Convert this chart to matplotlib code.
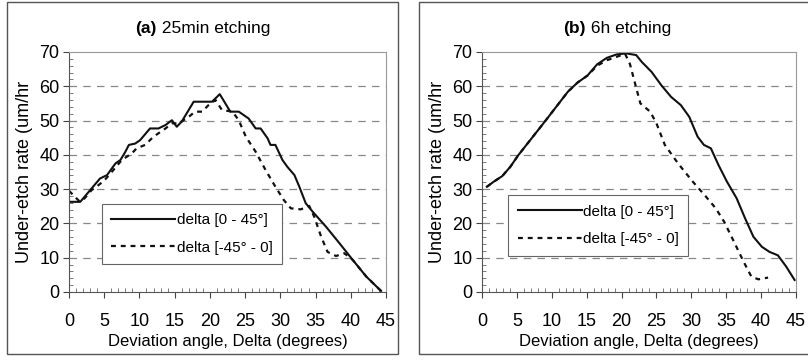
import matplotlib.pyplot as plt
from matplotlib.patches import Rectangle
from matplotlib.ticker import MultipleLocator

plt.rcParams['font.family'] = ['Liberation Sans', 'DejaVu Sans']

# panel (a) 25min etching
a_x_pos = [0, 1.6, 3.0, 4.4, 5.4, 6.1, 6.6, 7.3, 8.0, 8.5, 9.4, 10.1, 11.5, 12.7, 13.7, 14.6, 15.3, 16.0,
           17.7, 19.4, 20.3, 21.4, 22.9, 24.1, 25.5, 26.5, 27.2, 28.2, 28.6, 29.3, 30.3, 31.0, 32.0, 32.7,
           33.6, 34.6, 36.5, 38.4, 40.3, 42.2, 44.3]
a_y_pos = [26.3, 26.3, 29.7, 33.1, 34.1, 36.1, 37.5, 38.5, 40.9, 42.9, 43.3, 44.3, 47.7, 47.7, 48.7, 50.1,
           48.2, 49.7, 55.5, 55.5, 55.5, 57.7, 52.6, 52.6, 50.6, 47.7, 47.7, 44.8, 42.9, 42.9, 38.5, 36.5,
           34.1, 30.7, 25.9, 23.4, 19.0, 14.2, 9.3, 4.5, 0.3]
a_x_neg = [0, 0.5, 1.5, 2.2, 3.2, 3.9, 5.0, 6.1, 7.5, 8.9, 9.6, 10.8, 12.0, 13.7, 14.6, 15.6, 17.0, 17.9,
           18.9, 19.8, 20.8, 21.7, 23.2, 24.1, 25.1, 26.5, 27.9, 29.3, 30.5, 31.5, 32.9, 34.1, 34.8, 35.8,
           36.7, 37.9, 39.1, 40.3, 42.2, 44.3]
a_y_neg = [29.5, 28.5, 26.4, 27.3, 29.7, 30.7, 32.5, 35.1, 38.5, 40.4, 41.9, 42.9, 45.3, 47.7, 49.2, 49.2,
           51.1, 52.6, 52.6, 54.5, 56.0, 53.1, 52.6, 50.1, 45.3, 40.9, 35.6, 30.7, 26.8, 24.4, 24.1, 25.1,
           22.0, 16.1, 11.7, 10.5, 11.3, 9.3, 4.5, 0.3]

# panel (b) 6h etching
b_x_pos = [0.7, 1.7, 2.9, 4.05, 5.2, 7.1, 9.0, 10.9, 12.3, 13.7, 15.1, 16.5, 17.9, 19.3, 20.7, 22.1, 22.9,
           24.3, 25.7, 27.1, 28.5, 29.7, 30.9, 31.8, 32.8, 33.9, 35.1, 36.5, 37.7, 38.9, 40.1, 41.2, 42.4,
           43.6, 44.8]
b_y_pos = [30.7, 32.2, 33.8, 36.5, 39.9, 44.8, 49.7, 54.7, 58.4, 61.1, 63.1, 66.4, 68.3, 69.3, 69.6, 69.1,
           67.1, 64.2, 60.3, 56.9, 54.5, 51.1, 45.3, 42.9, 41.9, 37.0, 32.2, 27.3, 21.5, 16.1, 13.2, 11.7,
           10.7, 7.4, 3.5]
b_x_neg = [0.7, 1.7, 2.9, 4.05, 5.2, 7.1, 9.0, 10.9, 12.3, 13.7, 15.1, 16.5, 17.9, 19.3, 20.5, 21.2, 22.0,
           22.7, 24.1, 25.0, 26.2, 28.1, 30.2, 32.1, 33.5, 34.7, 36.1, 37.5, 38.6, 39.6, 41.0]
b_y_neg = [30.7, 32.2, 33.8, 36.5, 39.9, 44.8, 49.7, 54.7, 58.4, 61.1, 63.1, 66.0, 67.6, 68.6, 69.5, 66.5,
           60.3, 55.0, 52.6, 49.2, 42.9, 37.5, 32.2, 27.8, 24.4, 20.5, 14.7, 8.8, 4.5, 3.7, 4.2]

labels = ['delta [0 - 45°]', 'delta [-45° - 0]']
W, H = 808, 361

fig = plt.figure(figsize=(W / 100, H / 100), dpi=100)


def panel(left, width, xp, yp, xn, yn, tag, name, split, frame, leg_anchor):
    ax = fig.add_axes([left / W, (H - 292) / H, width / W, 240 / H])
    ax.plot(xp, yp, color='#111111', lw=1.5, label=labels[0])
    ax.plot(xn, yn, color='#111111', lw=1.6, linestyle=(0, (2.2, 2.2)), label=labels[1])
    ax.set_xlim(0, 45)
    ax.set_ylim(0, 70)
    ax.xaxis.set_major_locator(MultipleLocator(5))
    ax.xaxis.set_minor_locator(MultipleLocator(1))
    ax.yaxis.set_major_locator(MultipleLocator(10))
    ax.yaxis.set_minor_locator(MultipleLocator(2))
    ax.tick_params(which='major', direction='out', length=4, labelsize=13, color='#444444', pad=11)
    ax.tick_params(which='minor', direction='in', length=3, color='#666666')
    ax.tick_params(axis='y', pad=3)
    for y in range(10, 70, 10):
        ax.axhline(y, color='#888888', lw=0.9, linestyle=(0, (6, 5)), zorder=0)
    for s in ['top', 'right']:
        ax.spines[s].set_color('#999999')
    for s in ['left', 'bottom']:
        ax.spines[s].set_color('#555555')
    ax.set_xlabel('Deviation angle, Delta (degrees)', fontsize=12, labelpad=3)
    ax.set_ylabel('Under-etch rate (um/hr', fontsize=13, labelpad=4)
    leg = ax.legend(loc='lower left', bbox_to_anchor=leg_anchor, fontsize=11, handlelength=4.2,
                    fancybox=False, edgecolor='#666666', framealpha=1, borderpad=0.6, labelspacing=0.9,
                    handletextpad=0.1)
    leg.get_frame().set_linewidth(0.8)
    fig.text(split / W, 1 - 29 / H, tag, ha='right', va='center', fontsize=12.5, fontweight='bold')
    fig.text(split / W, 1 - 29 / H, ' ' + name, ha='left', va='center', fontsize=12.5)
    fig.patches.append(Rectangle((frame[0] / W, 7 / H), (frame[1] - frame[0]) / W, 352 / H,
                                 transform=fig.transFigure, fill=False, edgecolor='#555555', lw=1))
    return ax


panel(69, 317, a_x_pos, a_y_pos, a_x_neg, a_y_neg, '(a)', '25min etching', 157, (7, 398), (0.08, 0.085))
panel(482, 314, b_x_pos, b_y_pos, b_x_neg, b_y_neg, '(b)', '6h etching', 586, (419, 830), (0.06, 0.12))

fig.savefig('out.png', dpi=100)
